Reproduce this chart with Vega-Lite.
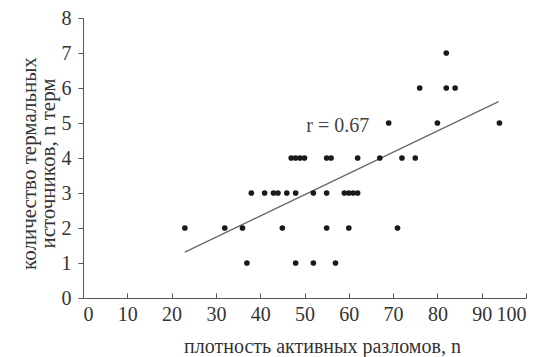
{
  "$schema": "https://vega.github.io/schema/vega-lite/v6.json",
  "width": 443,
  "height": 280,
  "autosize": {"type": "none"},
  "padding": {"left": 83, "top": 18, "right": 19, "bottom": 59},
  "background": "white",
  "config": {
    "view": {"stroke": null},
    "font": "Liberation Serif",
    "axis": {
      "grid": false,
      "domainColor": "#555",
      "tickColor": "#555",
      "labelColor": "#333",
      "titleColor": "#333",
      "labelFont": "Liberation Serif",
      "titleFont": "Liberation Serif",
      "labelFontSize": 20,
      "titleFontSize": 20,
      "titleFontWeight": "normal",
      "labelOverlap": false
    }
  },
  "datasets": {
    "points": [
      {"x": 82, "y": 7},
      {"x": 76, "y": 6}, {"x": 82, "y": 6}, {"x": 84, "y": 6},
      {"x": 69, "y": 5}, {"x": 80, "y": 5}, {"x": 94, "y": 5},
      {"x": 47, "y": 4}, {"x": 48, "y": 4}, {"x": 49, "y": 4}, {"x": 50, "y": 4},
      {"x": 55, "y": 4}, {"x": 56, "y": 4}, {"x": 62, "y": 4}, {"x": 67, "y": 4},
      {"x": 72, "y": 4}, {"x": 75, "y": 4},
      {"x": 38, "y": 3}, {"x": 41, "y": 3}, {"x": 43, "y": 3}, {"x": 44, "y": 3},
      {"x": 46, "y": 3}, {"x": 48, "y": 3}, {"x": 52, "y": 3}, {"x": 55, "y": 3},
      {"x": 59, "y": 3}, {"x": 60, "y": 3}, {"x": 61, "y": 3}, {"x": 62, "y": 3},
      {"x": 23, "y": 2}, {"x": 32, "y": 2}, {"x": 36, "y": 2}, {"x": 45, "y": 2},
      {"x": 55, "y": 2}, {"x": 60, "y": 2}, {"x": 71, "y": 2},
      {"x": 37, "y": 1}, {"x": 48, "y": 1}, {"x": 52, "y": 1}, {"x": 57, "y": 1}
    ],
    "trend": [
      {"x": 23, "y": 1.31},
      {"x": 93.8, "y": 5.61}
    ],
    "label": [
      {"x": 50.4, "y": 4.73, "text": "r = 0.67"}
    ]
  },
  "encoding": {
    "x": {
      "field": "x", "type": "quantitative",
      "scale": {"domain": [0, 100], "nice": false},
      "axis": {
        "values": [0, 10, 20, 30, 40, 50, 60, 70, 80, 90, 100],
        "tickSize": -5,
        "labelPadding": 11,
        "labelOverlap": false,
        "title": "плотность активных разломов, n",
        "titleX": 239,
        "titleY": 54,
        "titleBaseline": "alphabetic",
        "titleAnchor": "middle"
      }
    },
    "y": {
      "field": "y", "type": "quantitative",
      "scale": {"domain": [0, 8], "nice": false},
      "axis": {
        "values": [0, 1, 2, 3, 4, 5, 6, 7, 8],
        "tickCount": 9,
        "tickSize": 5,
        "labelPadding": 7,
        "labelOverlap": false,
        "labelFlush": false,
        "title": ["количество термальных", "источников, n терм"],
        "titleFontSize": 21,
        "titleLineHeight": 19,
        "titleAngle": -90,
        "titleX": -54,
        "titleY": 145,
        "titleAlign": "center",
        "titleBaseline": "middle",
        "titleAnchor": "middle"
      }
    }
  },
  "layer": [
    {
      "data": {"name": "trend"},
      "mark": {"type": "line", "color": "#666", "strokeWidth": 1.2}
    },
    {
      "data": {"name": "points"},
      "mark": {"type": "point", "filled": true, "shape": "circle", "size": 32, "color": "#1a1a1a", "opacity": 1}
    },
    {
      "data": {"name": "label"},
      "mark": {"type": "text", "align": "left", "baseline": "alphabetic", "fontSize": 20, "color": "#444", "font": "Liberation Serif"},
      "encoding": {
        "text": {"field": "text"}
      }
    }
  ]
}
